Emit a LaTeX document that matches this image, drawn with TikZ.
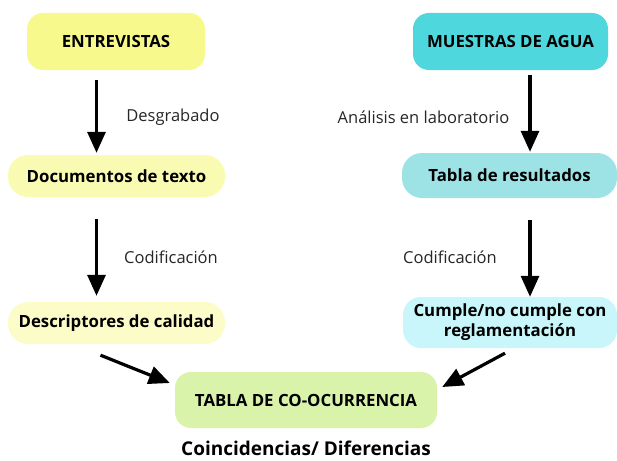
\documentclass[tikz,border=0pt]{standalone}
\usepackage{fontspec}
\setmainfont{Open Sans}
\usetikzlibrary{arrows.meta}

\definecolor{entfill}{HTML}{F7F98C}
\definecolor{docfill}{HTML}{FAFBB3}
\definecolor{descfill}{HTML}{FBFCC8}
\definecolor{aguafill}{HTML}{4FD7DE}
\definecolor{resfill}{HTML}{9DE3E6}
\definecolor{cumplefill}{HTML}{C8F6FA}
\definecolor{tablafill}{HTML}{DAF3AA}

\tikzset{
  box/.style={rounded corners=16pt, inner sep=0pt, align=center,
    font=\fontsize{16.8}{20}\selectfont\bfseries},
  flow/.style={line width=3.2pt, -{Triangle[width=18pt,length=21pt]}},
  lbl/.style={font=\fontsize{16.5}{19}\selectfont, text=black!85}
}

\begin{document}
\begin{tikzpicture}[x=1pt,y=-1pt]
  \useasboundingbox (0,0) rectangle (617,460);

  % Left column: interviews
  \node[box, fill=entfill, minimum width=178pt, minimum height=57pt] (ent) at (116,41.5) {ENTREVISTAS};
  \node[box, fill=docfill, minimum width=217pt, minimum height=42pt, rounded corners=20pt] (doc) at (116.5,176) {Documentos de texto};
  \node[box, fill=descfill, minimum width=217pt, minimum height=42pt, rounded corners=20pt] (desc) at (116.5,323) {Descriptores de calidad};

  % Right column: water samples
  \node[box, fill=aguafill, minimum width=195pt, minimum height=57pt] (agua) at (510.5,41.5) {MUESTRAS DE AGUA};
  \node[box, fill=resfill, minimum width=215pt, minimum height=45pt, rounded corners=20pt] (res) at (509.5,175.5) {Tabla de resultados};
  \node[box, fill=cumplefill, minimum width=214pt, minimum height=51pt, rounded corners=18pt] (cumple) at (510,322.5) {Cumple/no cumple con\\reglamentación};

  % Bottom
  \node[box, fill=tablafill, minimum width=262pt, minimum height=56pt] (tabla) at (306,400) {TABLA DE CO-OCURRENCIA};
  \node[font=\fontsize{19}{22}\selectfont\bfseries, inner sep=1pt] (coinc) at (306,448) {Coincidencias/ Diferencias};

  % Arrows
  \draw[flow] ([xshift=-19.5pt,yshift=-10pt]ent.south) -- ([xshift=-20pt,yshift=2pt]doc.north);
  \draw[flow] ([xshift=-20pt,yshift=-22pt]doc.south) -- ([xshift=-20pt,yshift=6pt]desc.north);
  \draw[flow] ([xshift=19.5pt,yshift=-5pt]agua.south) -- ([xshift=20.5pt,yshift=1pt]res.north);
  \draw[flow] ([xshift=20.5pt,yshift=-22pt]res.south) -- ([xshift=20pt,yshift=0pt]cumple.north);
  \draw[flow] ([xshift=-16pt,yshift=-11pt]desc.south) -- ([xshift=-5pt,yshift=17pt]tabla.west);
  \draw[flow] ([xshift=-5pt,yshift=-5pt]cumple.south) -- ([xshift=5pt,yshift=13pt]tabla.east);

  % Arrow labels
  \node[lbl] (desgr) at (173,117) {Desgrabado};
  \node[lbl] (anal) at (423.5,117) {Análisis en laboratorio};
  \node[lbl] (codl) at (171,257) {Codificación};
  \node[lbl] (codr) at (450,257) {Codificación};
\end{tikzpicture}
\end{document}
